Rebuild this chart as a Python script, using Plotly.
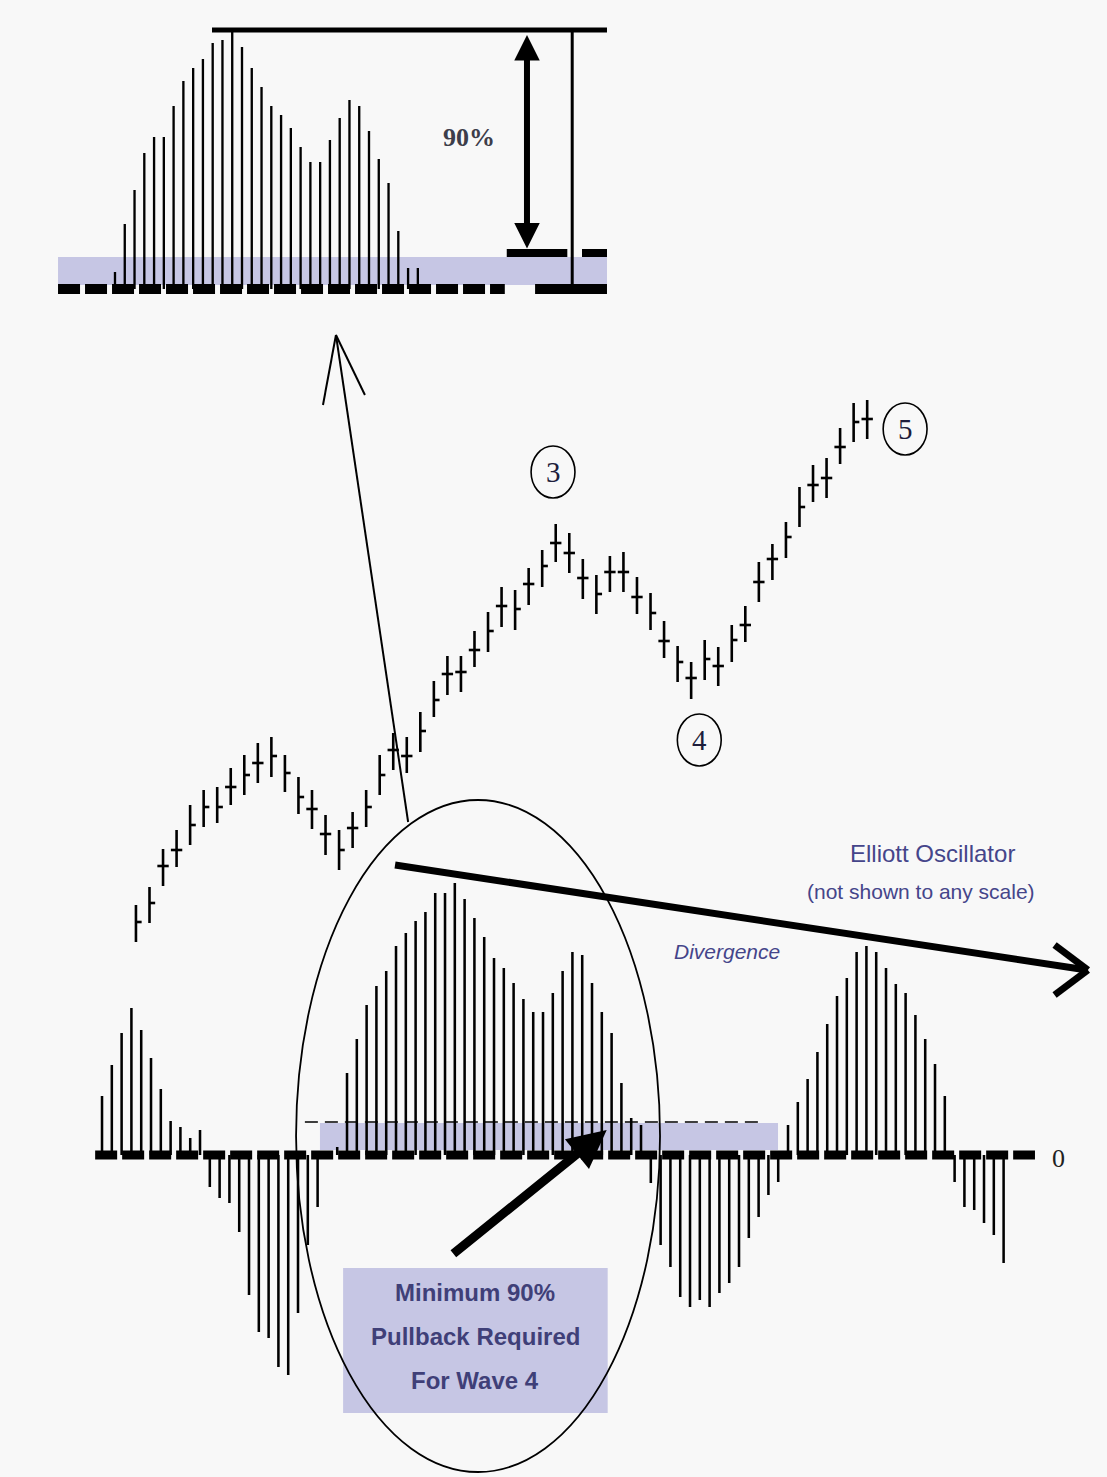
import plotly.graph_objects as go

# ---------------- DATA ----------------
# Price bars (wave 3 - 4 - 5), arbitrary price units
price_high = [109.5, 111.3, 115.1, 117.0, 119.5, 121.0, 121.3, 123.2, 124.5, 125.7,
              126.3, 124.5, 122.3, 121.0, 118.5, 117.0, 118.8, 121.0, 124.5, 126.7,
              126.3, 128.8, 131.9, 134.4, 134.4, 136.9, 138.8, 141.3, 141.0, 143.2,
              145.0, 147.6, 146.7, 144.1, 142.5, 144.4, 144.8, 142.3, 140.7, 137.9,
              135.4, 133.8, 136.0, 135.3, 137.5, 139.4, 143.8, 145.6, 147.8, 151.3,
              153.5, 154.2, 157.2, 159.7, 160.0]
price_low = [105.8, 107.7, 111.4, 113.3, 115.5, 117.3, 117.7, 119.5, 120.5, 121.7,
             122.3, 120.8, 118.6, 117.1, 114.5, 113.0, 115.2, 117.3, 120.5, 123.0,
             122.7, 124.8, 128.3, 130.5, 130.8, 133.3, 134.8, 137.3, 137.0, 139.5,
             141.3, 143.8, 142.7, 140.1, 138.6, 140.8, 140.8, 138.6, 137.0, 134.2,
             131.8, 130.1, 132.0, 131.4, 133.8, 135.8, 139.8, 142.0, 144.2, 147.3,
             149.8, 150.2, 153.6, 155.8, 156.1]
price_close = [107.8, 109.7, 113.4, 115.0, 117.5, 119.3, 119.3, 121.3, 122.5, 123.7,
               124.4, 122.7, 120.3, 119.1, 116.6, 115.0, 117.2, 119.3, 122.5, 125.0,
               124.4, 126.9, 130.0, 132.6, 132.8, 135.0, 136.9, 139.4, 139.1, 141.6,
               143.4, 145.7, 144.7, 142.2, 140.6, 142.8, 142.8, 140.3, 138.7, 135.9,
               133.8, 132.2, 134.1, 133.4, 136.0, 137.5, 141.8, 144.1, 146.3, 149.3,
               151.5, 152.2, 155.3, 157.8, 158.1]
# open tick shown (1) or close tick only (0)
has_open = [0, 0, 1, 1, 0, 0, 0, 1, 0, 1,
            0, 0, 0, 1, 1, 0, 1, 0, 0, 1,
            1, 0, 0, 1, 1, 1, 0, 1, 0, 1,
            0, 1, 1, 1, 0, 1, 1, 1, 0, 1,
            0, 1, 0, 1, 0, 1, 1, 1, 0, 0,
            1, 1, 1, 0, 1]

# Elliott Oscillator histogram (not shown to any scale)
osc_values = [59, 90, 122, 147, 125, 97, 66, 34, 28, 17, 25,
              -32, -43, -48, -77, -140, -177, -183, -212, -220, -158, -90, -52,
              0, 8,
              82, 116, 150, 169, 184, 209, 222, 234, 243, 262, 262, 272, 256, 237, 218,
              197, 187, 172, 156, 143, 143, 162, 184, 203, 200, 172, 143, 122, 72, 37, 30,
              -28, -90, -112, -142, -152, -145, -152, -138, -128, -112, -83, -62, -40, -27,
              30, 53, 76, 103, 131, 159, 177, 203, 209, 203, 187, 171, 162, 140, 116, 91, 59,
              -27, -52, -55, -68, -80, -108]

# Magnified wave-3 oscillator peak (inset)
inset_values = [17, 65, 99, 136, 152, 152, 183, 208, 221, 230, 246, 249, 259, 242, 221, 202,
                183, 174, 161, 142, 127, 127, 149, 171, 189, 183, 158, 130, 106, 58, 21, 21]

wave_labels = ["3", "4", "5"]
text_osc = ["Elliott Oscillator", "(not shown to any scale)"]
text_div = "Divergence"
text_box = ["Minimum 90%", "Pullback Required", "For Wave 4"]
text_pct = "90%"
zero_label = "0"

# ---------------- FIGURE ----------------
INK = "black"
LAV = "#c6c6e4"
NAVY = "#45458a"
BG = "#f8f8f8"

fig = go.Figure()

# price bars
TICK = 0.42
bx, by = [], []
for i, (h, l, c, o) in enumerate(zip(price_high, price_low, price_close, has_open)):
    bx += [i, i, None]; by += [l, h, None]
    bx += [i, i + TICK, None]; by += [c, c, None]
    if o:
        bx += [i - TICK, i, None]; by += [c, c, None]
fig.add_trace(go.Scatter(x=bx, y=by, mode="lines", line=dict(color=INK, width=2.6),
                         xaxis="x", yaxis="y", hoverinfo="skip"))

# oscillator histogram
osc_idx = list(range(len(osc_values)))
fig.add_trace(go.Bar(x=osc_idx, y=osc_values, width=0.26, marker=dict(color=INK, line=dict(width=0)),
                     xaxis="x2", yaxis="y2", hoverinfo="skip"))
fig.add_trace(go.Scatter(x=[-0.7, 95.2], y=[0, 0], mode="lines",
                         line=dict(color=INK, width=9, dash="22px,5px"),
                         xaxis="x2", yaxis="y2", hoverinfo="skip"))

# inset histogram
ins_idx = list(range(len(inset_values)))
fig.add_trace(go.Bar(x=ins_idx, y=inset_values, width=0.24, marker=dict(color=INK, line=dict(width=0)),
                     xaxis="x3", yaxis="y3", hoverinfo="skip"))
fig.add_trace(go.Scatter(x=[-5.83, 39.9], y=[0, 0], mode="lines",
                         line=dict(color=INK, width=10, dash="22px,5px"),
                         xaxis="x3", yaxis="y3", hoverinfo="skip"))
fig.add_trace(go.Scatter(x=[43.0, 50.36], y=[0, 0], mode="lines",
                         line=dict(color=INK, width=10),
                         xaxis="x3", yaxis="y3", hoverinfo="skip"))

peak_inset = max(inset_values)
shapes = []
# inset decorations
shapes.append(dict(type="rect", xref="x3", yref="y3", x0=-5.83, x1=50.36, y0=4, y1=32,
                   fillcolor=LAV, line=dict(width=0), layer="below"))
shapes.append(dict(type="line", xref="x3", yref="y3", x0=40.1, x1=46.3, y0=36, y1=36,
                   line=dict(color=INK, width=8)))
shapes.append(dict(type="line", xref="x3", yref="y3", x0=47.8, x1=50.36, y0=36, y1=36,
                   line=dict(color=INK, width=8)))
shapes.append(dict(type="line", xref="x3", yref="y3", x0=9.93, x1=50.36, y0=peak_inset, y1=peak_inset,
                   line=dict(color=INK, width=5)))
shapes.append(dict(type="line", xref="x3", yref="y3", x0=46.8, x1=46.8, y0=0, y1=peak_inset,
                   line=dict(color=INK, width=3)))

# oscillator decorations
shapes.append(dict(type="rect", xref="x2", yref="y2", x0=22.24, x1=68.98, y0=5, y1=32,
                   fillcolor=LAV, line=dict(width=0), layer="below"))
shapes.append(dict(type="line", xref="x2", yref="y2", x0=20.7, x1=67.1, y0=33, y1=33,
                   line=dict(color=INK, width=1.5, dash="13px,7px")))
shapes.append(dict(type="rect", xref="x2", yref="y2", x0=24.6, x1=51.6, y0=-258, y1=-113,
                   fillcolor=LAV, line=dict(width=0), layer="below"))
shapes.append(dict(type="circle", xref="x2", yref="y2", x0=19.8, x1=56.94, y0=-317, y1=355,
                   line=dict(color=INK, width=1.8)))
# divergence arrow
shapes.append(dict(type="line", xref="x2", yref="y2", x0=29.9, y0=290, x1=100.5, y1=185,
                   line=dict(color=INK, width=7)))
shapes.append(dict(type="line", xref="x2", yref="y2", x0=97.2, y0=210, x1=100.6, y1=185,
                   line=dict(color=INK, width=7)))
shapes.append(dict(type="line", xref="x2", yref="y2", x0=97.2, y0=160, x1=100.6, y1=185,
                   line=dict(color=INK, width=7)))

# thin arrow from the oscillator to the inset (price axis coords)
shapes.append(dict(type="line", xref="x", yref="y", x0=20.1, y0=117.8, x1=14.77, y1=166.5,
                   line=dict(color=INK, width=2)))
shapes.append(dict(type="line", xref="x", yref="y", x0=13.81, y0=159.5, x1=14.77, y1=166.5,
                   line=dict(color=INK, width=2)))
shapes.append(dict(type="line", xref="x", yref="y", x0=16.91, y0=160.5, x1=14.77, y1=166.5,
                   line=dict(color=INK, width=2)))

# wave circles (price axis coords)
wave_pos = [(30.8, 152.8), (41.6, 126.0), (56.8, 157.1)]
for (cx, cy) in wave_pos:
    shapes.append(dict(type="circle", xref="x", yref="y", x0=cx - 1.62, x1=cx + 1.62,
                       y0=cy - 2.6, y1=cy + 2.6, line=dict(color=INK, width=1.6)))

annotations = []
for lab, (cx, cy) in zip(wave_labels, wave_pos):
    annotations.append(dict(x=cx, y=cy, xref="x", yref="y", text=lab, showarrow=False,
                            font=dict(family="Liberation Serif", size=29, color="#1e1e3c")))

# double arrow in inset
annotations.append(dict(x=42.17, y=254, xref="x3", yref="y3", ax=42.17, ay=39, axref="x3", ayref="y3",
                        text="", showarrow=True, arrowhead=2, arrowside="end+start",
                        arrowwidth=6, arrowsize=0.85, arrowcolor=INK, standoff=0, startstandoff=0))
annotations.append(dict(x=36.2, y=152, xref="x3", yref="y3", text="<b>" + text_pct + "</b>",
                        showarrow=False,
                        font=dict(family="Liberation Serif", size=26, color="#3d3d4a")))

# big pullback arrow
annotations.append(dict(x=51.5, y=25, xref="x2", yref="y2", ax=35.7, ay=-100, axref="x2", ayref="y2",
                        text="", showarrow=True, arrowhead=2, arrowwidth=9, arrowsize=0.85,
                        arrowcolor=INK, standoff=0))

# texts
annotations.append(dict(x=84.7, y=302, xref="x2", yref="y2", text=text_osc[0], showarrow=False,
                        font=dict(family="Liberation Sans", size=24, color=NAVY)))
annotations.append(dict(x=83.6, y=264, xref="x2", yref="y2", text=text_osc[1], showarrow=False,
                        font=dict(family="Liberation Sans", size=21, color=NAVY)))
annotations.append(dict(x=63.8, y=204, xref="x2", yref="y2", text="<i>" + text_div + "</i>",
                        showarrow=False, font=dict(family="Liberation Sans", size=21, color=NAVY)))
annotations.append(dict(x=97.6, y=-3, xref="x2", yref="y2", text=zero_label, showarrow=False,
                        font=dict(family="Liberation Serif", size=26, color="#222222")))
for line_txt, yv in zip(text_box, [-137, -181, -225]):
    annotations.append(dict(x=38.1, y=yv, xref="x2", yref="y2", text="<b>" + line_txt + "</b>",
                            showarrow=False, font=dict(family="Liberation Sans", size=24, color="#3f3f78")))

hidden = dict(visible=False, fixedrange=True, showgrid=False, zeroline=False)
fig.update_layout(
    width=1107, height=1477,
    margin=dict(l=0, r=0, t=0, b=0),
    paper_bgcolor=BG, plot_bgcolor="rgba(0,0,0,0)",
    showlegend=False, hovermode=False, barmode="overlay",
    xaxis=dict(domain=[0, 1], range=[-10.04, 71.71], anchor="y", **hidden),
    yaxis=dict(domain=[0, 1], range=[52.3, 200.0], anchor="x", **hidden),
    xaxis2=dict(domain=[0, 1], range=[-10.41, 102.55], anchor="y2", **hidden),
    yaxis2=dict(domain=[0, 1], range=[-322, 1155], anchor="x2", **hidden),
    xaxis3=dict(domain=[0, 1], range=[-11.77, 101.54], anchor="y3", **hidden),
    yaxis3=dict(domain=[0, 1], range=[-1188, 289], anchor="x3", **hidden),
    shapes=shapes, annotations=annotations,
)

fig.write_html("out.html", config={"displayModeBar": False},
               post_script="document.body.style.margin='0';document.body.style.background='" + BG + "';")
